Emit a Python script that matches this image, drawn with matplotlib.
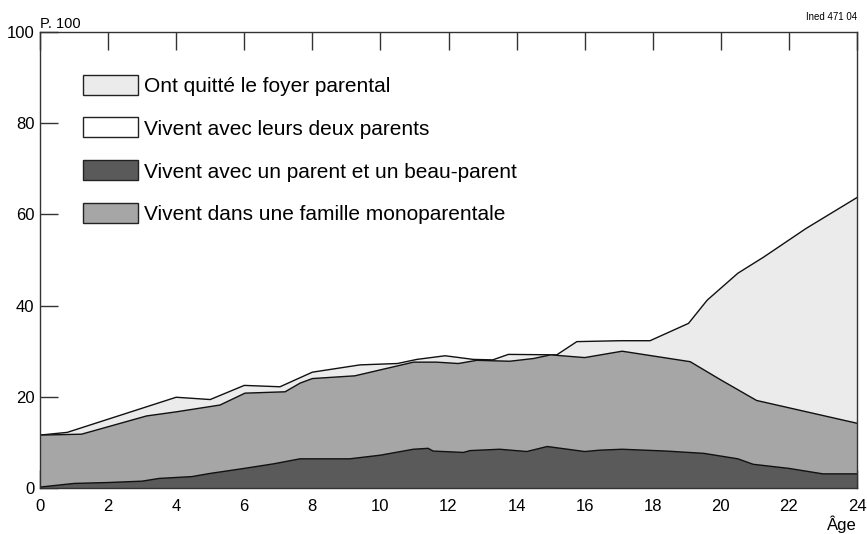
import matplotlib
matplotlib.use("Agg")
import matplotlib.pyplot as plt
from matplotlib.patches import Patch

plt.rcParams['font.family'] = ['Liberation Sans', 'DejaVu Sans']

# Outer curve: share not living with both parents (top of "left home" area)
outer_age = [0, 0.8, 4.0, 5.0, 6.0, 7.05, 8.0, 9.4, 10.5, 11.07, 11.9, 12.73, 13.3, 13.76,
             15.18, 15.77, 17.04, 17.92, 19.05, 19.6, 20.5, 21.25, 22.5, 24]
outer_val = [11.6, 12.2, 19.9, 19.4, 22.5, 22.2, 25.4, 27.0, 27.3, 28.2, 29.0, 28.2, 28.1, 29.3,
             29.2, 32.1, 32.3, 32.3, 36.1, 41.2, 47.1, 50.6, 56.9, 63.7]

# Single-parent + stepfamily cumulative (top of medium gray)
mono_age = [0, 1.22, 3.13, 4.0, 5.29, 6.02, 7.2, 7.64, 8.0, 9.25, 10.97, 11.65, 12.29, 12.83,
            13.8, 14.5, 15.0, 16.0, 17.1, 19.1, 20.0, 21.05, 24]
mono_val = [11.6, 11.8, 15.8, 16.7, 18.2, 20.8, 21.1, 23.0, 24.0, 24.6, 27.6, 27.6, 27.3, 28.0,
            27.8, 28.4, 29.2, 28.6, 30.0, 27.7, 23.7, 19.2, 14.2]

# Stepfamily (dark gray)
step_age = [0, 1.0, 2.0, 3.0, 3.5, 4.46, 5.0, 6.0, 6.86, 7.64, 9.1, 10.0, 10.97, 11.4, 11.55,
            12.44, 12.63, 13.5, 14.3, 14.9, 15.5, 16.0, 16.45, 17.1, 18.4, 19.5, 20.5, 20.95,
            22.0, 23.0, 24]
step_val = [0.2, 1.0, 1.2, 1.5, 2.1, 2.5, 3.2, 4.3, 5.3, 6.4, 6.4, 7.2, 8.5, 8.7, 8.1,
            7.8, 8.2, 8.5, 8.0, 9.1, 8.5, 8.0, 8.3, 8.5, 8.1, 7.6, 6.4, 5.2,
            4.3, 3.1, 3.1]

legend_labels = ["Ont quitté le foyer parental",
                 "Vivent avec leurs deux parents",
                 "Vivent avec un parent et un beau-parent",
                 "Vivent dans une famille monoparentale"]
legend_colors = ["#ebebeb", "#ffffff", "#5a5a5a", "#a6a6a6"]

x_ticks = list(range(0, 25, 2))
y_ticks = [0, 20, 40, 60, 80, 100]

fig = plt.figure(figsize=(8.67, 5.34), dpi=100)
ax = fig.add_axes([40/867, 46/534, 817/867, 456/534])

ax.fill_between(outer_age, 0, outer_val, facecolor="#ebebeb", edgecolor="none", zorder=1)
ax.plot(outer_age, outer_val, color="#111111", lw=1.0, zorder=2)
ax.fill_between(mono_age, 0, mono_val, facecolor="#a6a6a6", edgecolor="none", zorder=3)
ax.plot(mono_age, mono_val, color="#111111", lw=1.0, zorder=4)
ax.fill_between(step_age, 0, step_val, facecolor="#5a5a5a", edgecolor="none", zorder=5)
ax.plot(step_age, step_val, color="#111111", lw=1.0, zorder=6)

ax.set_xlim(0, 24)
ax.set_ylim(0, 100)
ax.set_xticks(x_ticks)
ax.set_yticks(y_ticks)
ax.tick_params(axis='both', direction='in', length=13, width=1.0, color="#333333",
               labelsize=12)
ax.tick_params(axis='x', pad=8, top=True, labeltop=False)
ax.tick_params(axis='y', pad=4)
for s in ax.spines.values():
    s.set_color("#333333")
    s.set_linewidth(1.0)
    s.set_zorder(10)
for t in ax.xaxis.get_major_ticks() + ax.yaxis.get_major_ticks():
    t.tick1line.set_zorder(10)
    t.tick2line.set_zorder(10)
ax.set_axisbelow(False)

handles = [Patch(facecolor=c, edgecolor="#222222", linewidth=1.0) for c in legend_colors]
leg = ax.legend(handles, legend_labels, loc="upper left", bbox_to_anchor=(0.043, 0.925),
                frameon=False, fontsize=15, handlelength=2.6, handleheight=1.1,
                handletextpad=0.3, labelspacing=1.05, borderaxespad=0)

fig.text(40/867, 1 - 28/534, "P. 100", fontsize=10.5, ha="left", va="baseline")
fig.text(857/867, 1 - 20/534, "Ined 471 04", fontsize=7, ha="right", va="baseline")
fig.text(842/867, 1 - 530/534, "Âge", fontsize=12, ha="center", va="baseline")

fig.savefig("out.png", dpi=100)
